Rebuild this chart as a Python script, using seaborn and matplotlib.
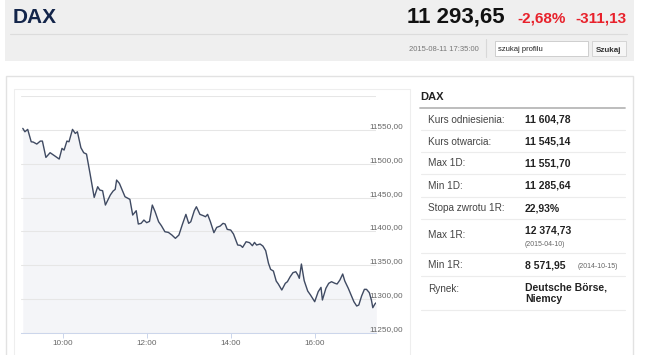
import pandas as pd
import matplotlib
matplotlib.use('Agg')
import matplotlib.pyplot as plt
import matplotlib.dates as mdates
from matplotlib.patches import Rectangle
from matplotlib.lines import Line2D
import seaborn as sns

# intraday DAX quotes, 2015-08-11
times = ['09:03', '09:06', '09:10', '09:15', '09:18', '09:23', '09:28', '09:31', '09:36', '09:42',
         '09:49', '09:55', '09:59', '10:02', '10:06', '10:09', '10:14', '10:18', '10:21', '10:26',
         '10:30', '10:34', '10:39', '10:45', '10:50', '10:53', '10:57', '11:01', '11:08', '11:12',
         '11:15', '11:17', '11:21', '11:26', '11:29', '11:36', '11:40', '11:45', '11:48', '11:52',
         '11:56', '12:00', '12:04', '12:08', '12:12', '12:17', '12:21', '12:26', '12:31', '12:36',
         '12:41', '12:46', '12:51', '12:56', '13:00', '13:03', '13:08', '13:11', '13:16', '13:21',
         '13:24', '13:27', '13:31', '13:36', '13:40', '13:45', '13:49', '13:52', '13:55', '14:00',
         '14:04', '14:10', '14:14', '14:17', '14:22', '14:27', '14:31', '14:34', '14:37', '14:42',
         '14:46', '14:50', '14:54', '14:57', '15:01', '15:05', '15:08', '15:13', '15:18', '15:21',
         '15:25', '15:29', '15:33', '15:36', '15:38', '15:41', '15:45', '15:50', '15:54', '16:00',
         '16:05', '16:09', '16:11', '16:16', '16:20', '16:24', '16:29', '16:32', '16:36', '16:40',
         '16:43', '16:48', '16:53', '16:56', '17:00', '17:03', '17:07', '17:11', '17:14', '17:18',
         '17:21', '17:23', '17:26', '17:28']
values = [11552.5, 11547.5, 11551.0, 11532.7, 11532.2, 11529.3, 11533.7, 11533.7, 11509.5, 11516.5,
          11511.5, 11507.1, 11522.9, 11520.4, 11533.7, 11532.7, 11551.0, 11545.0, 11547.5, 11523.9,
          11516.5, 11514.5, 11485.9, 11450.3, 11466.1, 11461.2, 11460.2, 11439.0, 11453.8, 11459.7,
          11462.2, 11476.0, 11471.1, 11458.7, 11451.3, 11447.4, 11424.2, 11430.6, 11410.9, 11411.9,
          11416.8, 11412.9, 11414.8, 11439.0, 11429.1, 11414.3, 11408.4, 11399.5, 11398.5, 11394.6,
          11389.7, 11394.6, 11410.4, 11425.2, 11411.9, 11414.3, 11430.6, 11436.5, 11425.2, 11423.2,
          11421.7, 11425.2, 11414.3, 11398.1, 11405.9, 11407.9, 11411.9, 11410.9, 11403.0, 11402.0,
          11396.1, 11379.8, 11379.3, 11376.3, 11384.7, 11383.3, 11378.8, 11383.7, 11379.8, 11381.3,
          11378.3, 11371.4, 11352.7, 11343.8, 11341.3, 11326.5, 11322.1, 11313.2, 11323.1, 11325.5,
          11332.9, 11338.9, 11340.3, 11335.4, 11330.5, 11351.7, 11327.0, 11311.7, 11305.8, 11295.9,
          11310.7, 11317.1, 11298.4, 11315.7, 11323.1, 11325.5, 11323.1, 11322.1, 11328.0, 11336.9,
          11326.5, 11315.7, 11303.3, 11295.9, 11289.5, 11291.0, 11304.3, 11314.2, 11314.2, 11309.3,
          11298.4, 11287.0, 11292.5, 11294.5]

y_ticks = [11250, 11300, 11350, 11400, 11450, 11500, 11550, 11600]
y_tick_labels = ['11250,00', '11300,00', '11350,00', '11400,00', '11450,00', '11500,00', '11550,00', '']
x_tick_hours = [10, 12, 14, 16]

index_name = 'DAX'
last_value = '11 293,65'
change_pct = '-2,68%'
change_abs = '-311,13'
timestamp = '2015-08-11 17:35:00'

table_labels = ['Kurs odniesienia:', 'Kurs otwarcia:', 'Max 1D:', 'Min 1D:',
                'Stopa zwrotu 1R:', 'Max 1R:', 'Min 1R:', 'Rynek:']
table_values = ['11 604,78', '11 545,14', '11 551,70', '11 285,64',
                '22,93%', '12 374,73', '8 571,95', 'Deutsche Börse,\nNiemcy']
max_1r_date = '(2015-04-10)'
min_1r_date = '(2014-10-15)'

W, H = 645, 355


def fx(x):
    return x / W


def fy(y):
    return 1 - y / H


def box(x0, y0, x1, y1, fc, ec='none', lw=0):
    fig.add_artist(Rectangle((fx(x0), fy(y1)), fx(x1) - fx(x0), fy(y0) - fy(y1),
                             transform=fig.transFigure, facecolor=fc, edgecolor=ec,
                             linewidth=lw, zorder=-5))


def hline(x0, x1, y, color, lw=0.75):
    fig.add_artist(Line2D([fx(x0), fx(x1)], [fy(y), fy(y)], transform=fig.transFigure,
                          color=color, linewidth=lw))


sns.set_theme(style='white')
plt.rcParams['font.family'] = ['Liberation Sans', 'DejaVu Sans']

fig = plt.figure(figsize=(6.45, 3.55), dpi=100)
fig.patch.set_facecolor('white')

# header bar
box(5, -2, 634, 61, '#efefef')
hline(10, 627, 33.5, '#dcdcdc', 0.8)
fig.text(fx(13), fy(22.7), index_name, fontsize=15, fontweight='bold', color='#13254a', va='baseline')
fig.text(fx(505), fy(22.5), last_value, fontsize=16, fontweight='bold', color='#111111',
         va='baseline', ha='right')
fig.text(fx(517), fy(22.5), change_pct, fontsize=11, fontweight='bold', color='#e8212b', va='baseline')
fig.text(fx(627), fy(22.5), change_abs, fontsize=11, fontweight='bold', color='#e8212b',
         va='baseline', ha='right')
fig.text(fx(479), fy(51), timestamp, fontsize=5.5, color='#777777', va='baseline', ha='right')
fig.add_artist(Line2D([fx(486), fx(486)], [fy(39), fy(57)], transform=fig.transFigure,
                      color='#d8d8d8', linewidth=0.8))
box(495, 41, 588, 55.5, 'white', '#c8c8c8', 0.6)
fig.text(fx(498), fy(51), 'szukaj profilu', fontsize=5.5, color='#222222', va='baseline')
box(592, 41, 626, 56, '#f6f6f6', '#d0d0d0', 0.6)
fig.text(fx(609), fy(51.5), 'Szukaj', fontsize=5.8, fontweight='bold', color='#333333',
         va='baseline', ha='center')

# content panel and chart frame
box(5.5, 75.5, 633, 370, 'white', '#e2e2e2', 1.0)
box(14, 89, 410, 370, 'white', '#eeeeee', 0.8)

# chart
df = pd.DataFrame({'time': pd.to_datetime('2015-08-11 ' + pd.Series(times)), 'value': values})
ax = fig.add_axes([fx(20.7), fy(332.7), fx(376.3) - fx(20.7), fy(96.3) - fy(332.7)])
ax.set_zorder(1)
ax.patch.set_alpha(0)
ax.fill_between(df['time'], df['value'], y_ticks[0], color='#f4f5f8', linewidth=0, zorder=0)
sns.lineplot(data=df, x='time', y='value', ax=ax, color='#3f4a62', linewidth=1.0, zorder=3)
ax.set_xlim(pd.Timestamp('2015-08-11 09:00'), pd.Timestamp('2015-08-11 17:28'))
ax.set_ylim(y_ticks[0], y_ticks[-1])
ax.set_xlabel('')
ax.set_ylabel('')

ax.set_axisbelow(False)
ax.yaxis.tick_right()
ax.set_yticks(y_ticks)
ax.set_yticklabels(y_tick_labels)
ax.grid(axis='y', color='#e6e6e6', linewidth=0.75, zorder=1)
ax.grid(axis='x', visible=False)
ax.tick_params(axis='y', length=0, pad=-5.3, labelsize=5.9, labelcolor='#666666')
for lab in ax.get_yticklabels():
    lab.set_verticalalignment('bottom')

ax.xaxis.set_major_locator(mdates.HourLocator(byhour=x_tick_hours))
ax.xaxis.set_major_formatter(mdates.DateFormatter('%H:%M'))
ax.tick_params(axis='x', bottom=True, length=3.6, width=0.72, color='#ccd6eb',
               labelsize=5.9, labelcolor='#666666', pad=2)
for side in ['top', 'left', 'right']:
    ax.spines[side].set_visible(False)
ax.spines['bottom'].set_color('#ccd6eb')
ax.spines['bottom'].set_linewidth(0.75)

# info table
fig.text(fx(420), fy(97), index_name, fontsize=8, fontweight='bold', color='#222222', va='center')
hline(420, 625, 107.5, '#b8b8b8', 1.3)
for y in [130, 152.3, 174.3, 196.7, 219.3, 253.3, 276, 310]:
    hline(421, 625, y, '#ececec', 0.8)

# baselines; a two-line value is anchored on its last line
label_y = [123, 144.7, 166.3, 189, 211.3, 238, 268, 292.3]
value_y = [123, 144.7, 166.3, 189, 211.3, 233.7, 268, 301.5]
for lab, val, ly, vy in zip(table_labels, table_values, label_y, value_y):
    fig.text(fx(428), fy(ly), lab, fontsize=7.2, color='#444444', va='baseline')
    fig.text(fx(525), fy(vy), val, fontsize=7.5, fontweight='bold', color='#222222',
             va='baseline', linespacing=1.15)
fig.text(fx(525), fy(245.5), max_1r_date, fontsize=5, color='#666666', va='baseline')
fig.text(fx(577.5), fy(268), min_1r_date, fontsize=5, color='#666666', va='baseline')

fig.savefig('out.png', dpi=100)
